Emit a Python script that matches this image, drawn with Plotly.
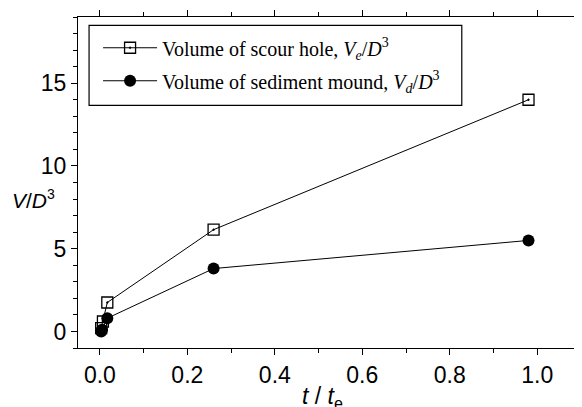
import plotly.graph_objects as go

# Data
scour_t = [0.003, 0.007, 0.017, 0.26, 0.98]
scour_v = [0.2, 0.6, 1.75, 6.15, 14.0]
mound_t = [0.003, 0.005, 0.017, 0.26, 0.98]
mound_v = [0.0, 0.1, 0.8, 3.8, 5.5]

x_ticks = [0.0, 0.2, 0.4, 0.6, 0.8, 1.0]
x_ticklabels = ["0.0", "0.2", "0.4", "0.6", "0.8", "1.0"]
y_ticks = [0, 5, 10, 15]

fig = go.Figure()
fig.add_trace(go.Scatter(
    x=scour_t, y=scour_v, mode="lines+markers", legendgroup="a",
    name="Volume of scour hole, <i>V<sub>e</sub></i>/<i>D</i><sup>3</sup>",
    line=dict(color="black", width=1),
    marker=dict(symbol="square-open-dot", size=11, color="black", line=dict(width=1.3)),
))
fig.add_trace(go.Scatter(
    x=mound_t, y=mound_v, mode="lines+markers", legendgroup="b",
    name="Volume of sediment mound, <i>V<sub>d</sub></i>/<i>D</i><sup>3</sup>",
    line=dict(color="black", width=1),
    marker=dict(symbol="circle", size=12, color="black"),
))

axis_common = dict(
    showline=True, linecolor="black", linewidth=1.2, mirror="ticks",
    ticks="outside", tickcolor="black", tickwidth=1.2, ticklen=6,
    showgrid=False, zeroline=False, automargin=False,
    tickfont=dict(family="Arial, Liberation Sans", size=23, color="black"),
)

fig.update_xaxes(
    range=[-0.05, 1.1], tickvals=x_ticks, ticktext=x_ticklabels,
    minor=dict(dtick=0.1, ticks="outside", ticklen=4, tickcolor="black", tickwidth=1.2, showgrid=False),
    **axis_common,
)
fig.update_yaxes(
    range=[-1, 19], tickvals=y_ticks,
    minor=dict(dtick=1, ticks="outside", ticklen=4, tickcolor="black", tickwidth=1.2, showgrid=False),
    **axis_common,
)

fig.add_annotation(
    text="<i>V</i>/<i>D</i><sup><span style='font-size:14px'>3</span></sup>",
    xref="paper", yref="paper",
    x=-0.088, y=0.45, xanchor="center", yanchor="middle", showarrow=False,
    font=dict(family="Arial, Liberation Sans", size=21, color="black"),
)
fig.add_annotation(
    text="<i>t</i> / <i>t</i><sub>e</sub>", xref="paper", yref="paper",
    x=0.487, y=-0.15, xanchor="center", yanchor="middle", showarrow=False,
    font=dict(family="Arial, Liberation Sans", size=23, color="black"),
)

# legend frame
fig.add_shape(
    type="rect", xref="paper", yref="paper",
    x0=0.022, x1=0.763, y0=0.733, y1=0.975,
    line=dict(color="black", width=1.2), fillcolor="white", layer="above",
)

fig.update_layout(
    width=582, height=407,
    margin=dict(l=70, r=9, t=9, b=67),
    plot_bgcolor="white", paper_bgcolor="white",
    legend=dict(
        x=0.022, y=0.966, xanchor="left", yanchor="top",
        bgcolor="rgba(0,0,0,0)", borderwidth=0,
        itemwidth=54, tracegroupgap=4, indentation=9,
        font=dict(family="Times New Roman, Liberation Serif", size=20, color="black"),
    ),
)

fig.write_html("out.html")
